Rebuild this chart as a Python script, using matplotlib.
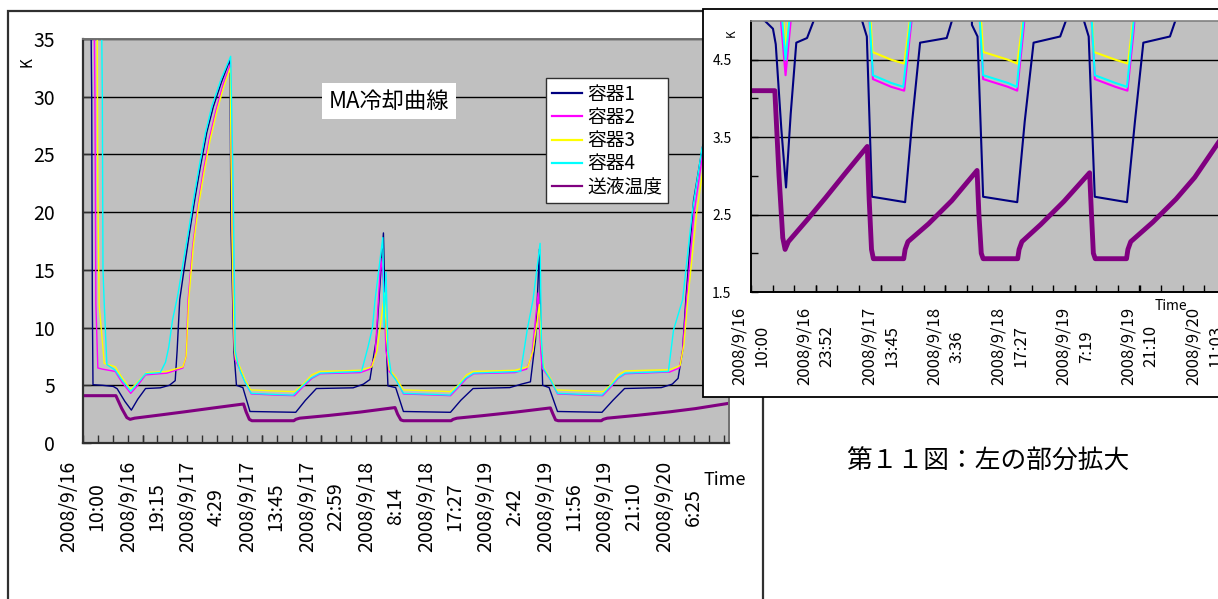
import numpy as np
import matplotlib
matplotlib.use('Agg')
import matplotlib.pyplot as plt
from matplotlib.patches import Rectangle
from matplotlib.ticker import FixedLocator
from datetime import datetime

plt.rcParams['font.family'] = ['Noto Sans CJK JP', 'DejaVu Sans']

# ---------------- data (hours after 2008/9/16 10:00, temperature K) ----------------
START = '2008/9/16 10:00'
T_END = 100.2

main_tick_labels = ['2008/9/16 10:00', '2008/9/16 19:15', '2008/9/17 4:29', '2008/9/17 13:45',
                    '2008/9/17 22:59', '2008/9/18 8:14', '2008/9/18 17:27', '2008/9/19 2:42',
                    '2008/9/19 11:56', '2008/9/19 21:10', '2008/9/20 6:25']
inset_tick_labels = ['2008/9/16 10:00', '2008/9/16 23:52', '2008/9/17 13:45', '2008/9/18 3:36',
                     '2008/9/18 17:27', '2008/9/19 7:19', '2008/9/19 21:10', '2008/9/20 11:03']

series_names = ['容器1', '容器2', '容器3', '容器4', '送液温度']
series_colors = ['#000080', '#FF00FF', '#FFFF00', '#00FFFF', '#800080']

t1 = [0, 1.25, 1.35, 1.45, 1.55, 3.0, 4.7, 5.3, 6.5, 7.5, 8.5, 9.7, 12.0, 13.4, 14.3, 14.6, 15.0,
      15.8, 16.6, 17.4, 18.2, 19.2, 20.2, 21.5, 22.8, 22.95, 23.4, 23.8, 24.8, 25.9, 29, 33.0,
      34.5, 36.2, 41.9, 43.5, 44.5, 45.5, 46.6, 46.9, 47.3, 48.5, 49.7, 57.0, 58.6, 60.5, 66.2,
      68.0, 69.4, 70.2, 70.8, 71.0, 71.3, 72.3, 73.6, 80.5, 82.2, 84.0, 89.7, 91.4, 92.3, 93.0,
      93.5, 94.7, 96.1, 98.0, 100.3]
k1 = [60, 36, 30, 12, 5.05, 5.0, 4.9, 4.7, 3.6, 2.85, 3.8, 4.72, 4.78, 5.0, 5.4, 8.0, 12.4,
      15.5, 18.5, 21.3, 23.9, 26.9, 29.1, 31.3, 33.2, 18.5, 8, 5.0, 4.8, 2.73, 2.7, 2.66,
      3.7, 4.72, 4.78, 5.1, 5.5, 9, 18.2, 10.5, 4.95, 4.8, 2.73, 2.66, 3.7, 4.72, 4.8,
      5.1, 5.3, 9, 16.8, 10, 5.0, 4.8, 2.73, 2.66, 3.7, 4.72, 4.8, 5.1, 5.6, 8,
      12.4, 21, 25.7, 28.5, 31]

t2 = [0, 1.75, 1.85, 2.0, 2.3, 3.0, 5.0, 6.0, 7.4, 8.5, 9.7, 13.0, 15.5, 16.0, 16.3, 17.0, 17.8,
      18.6, 19.6, 20.6, 21.8, 22.85, 22.95, 23.1, 23.4, 23.6, 24.4, 25.2, 26.1, 30, 32.8, 34.0,
      35.5, 36.8, 43, 44.5, 45.3, 46.2, 46.6, 47.0, 47.5, 48.5, 49.7, 55, 57.0, 58.2, 59.5,
      60.6, 67, 68.8, 69.6, 70.6, 70.9, 71.2, 72.5, 73.6, 78, 80.6, 81.8, 83.0, 84.1, 91,
      92.5, 93.0, 93.6, 94.8, 96.2, 100.3]
k2 = [60, 36, 30, 12, 6.5, 6.4, 6.2, 5.3, 4.3, 5.0, 5.9, 6.05, 6.5, 7.5, 12.4, 17, 20.5,
      23.4, 26.4, 28.8, 31.2, 32.8, 29, 20, 9, 7.2, 6.3, 5.2, 4.25, 4.15, 4.1, 4.8,
      5.6, 6.0, 6.1, 6.4, 7.5, 16, 14, 8, 6.2, 5.6, 4.25, 4.15, 4.1, 4.8, 5.6,
      6.0, 6.1, 6.4, 7.5, 13, 9, 6.5, 5.5, 4.25, 4.15, 4.1, 4.8, 5.6, 6.0, 6.15,
      6.5, 8, 12.4, 20, 25.3, 31]

t3 = [0, 2.2, 2.3, 2.5, 3.3, 5.0, 6.0, 7.4, 8.5, 9.9, 13.0, 15.5, 16.0, 16.4, 17.1, 17.9, 18.7,
      19.7, 20.7, 21.8, 22.85, 22.95, 23.2, 23.5, 23.7, 24.4, 25.2, 26.0, 30, 32.8, 34.0, 35.5,
      36.7, 43, 44.8, 45.6, 46.8, 47.1, 47.5, 48.5, 49.7, 55, 57.0, 58.2, 59.5, 60.5, 67,
      69.0, 69.8, 70.8, 71.1, 71.5, 72.5, 73.4, 78, 80.7, 81.8, 83.0, 84.1, 91, 92.6, 93.2,
      93.8, 95.2, 96.5, 100.3]
k3 = [60, 36, 22, 12, 6.9, 6.6, 5.7, 4.65, 5.3, 6.1, 6.2, 6.6, 7.5, 12.4, 17, 20.5, 23.2,
      26.2, 28.6, 30.8, 32.5, 25, 15, 8, 7.3, 6.5, 5.4, 4.6, 4.5, 4.45, 5.0, 5.9,
      6.2, 6.3, 6.6, 8, 13, 9, 6.4, 5.7, 4.6, 4.5, 4.45, 5.0, 5.9, 6.2, 6.3,
      6.6, 8, 12, 8.5, 6.5, 5.6, 4.6, 4.5, 4.45, 5.0, 5.9, 6.25, 6.35, 6.7, 8.5,
      12.4, 20, 25, 30]

t4 = [0, 2.9, 3.0, 3.1, 3.3, 3.7, 5.0, 6.0, 7.4, 8.5, 9.7, 12.0, 12.8, 13.3, 13.9, 14.7, 15.5,
      16.4, 17.2, 18.0, 19.0, 20.0, 21.4, 22.9, 23.1, 23.3, 23.6, 24.0, 24.4, 25.1, 26.1, 30,
      32.6, 33.8, 35.3, 36.8, 43.2, 44.2, 44.9, 45.3, 46.5, 46.7, 47.0, 47.3, 47.8, 48.6, 49.7,
      55, 56.9, 58.0, 59.3, 60.6, 67.9, 68.9, 69.8, 70.9, 71.1, 71.4, 72.6, 73.6, 78, 80.5,
      81.6, 82.9, 84.1, 90.8, 91.6, 93.0, 94.5, 96.0, 100.3]
k4 = [60, 36, 30, 15, 12, 6.8, 6.3, 5.5, 4.5, 5.2, 6.0, 6.1, 7.0, 8.3, 10.7, 12.8, 15.5,
      18.5, 21.3, 23.9, 26.9, 29.2, 31.5, 33.5, 28, 22, 8, 6.9, 6.2, 5.3, 4.3, 4.2,
      4.15, 4.8, 5.6, 6.05, 6.2, 8.3, 10, 12.4, 17.8, 10, 14.8, 8, 6.0, 5.4, 4.3,
      4.2, 4.15, 4.8, 5.6, 6.05, 6.2, 9.8, 12.4, 17.3, 9, 6.5, 5.4, 4.3, 4.2, 4.15,
      4.8, 5.6, 6.05, 6.2, 9.8, 12.4, 20, 25.5, 31]

t5 = [0, 5.1, 6.0, 6.8, 7.3, 8.0, 12, 16, 20, 24.9, 25.3, 25.8, 26.2, 32.7, 33.0, 33.6, 38, 43,
      48.4, 48.8, 49.3, 49.7, 57.1, 57.4, 58.0, 62, 67, 72.5, 72.9, 73.3, 73.7, 80.4, 80.7,
      81.3, 86, 91, 95, 100.3]
k5 = [4.1, 4.1, 3.0, 2.2, 2.05, 2.15, 2.43, 2.72, 3.02, 3.38, 2.7, 2.05, 1.93, 1.93, 2.05, 2.15, 2.38, 2.68,
      3.07, 2.5, 2.0, 1.93, 1.93, 2.05, 2.15, 2.37, 2.67, 3.04, 2.5, 2.0, 1.93, 1.93, 2.05,
      2.15, 2.4, 2.7, 2.98, 3.45]

series_t = [t1, t2, t3, t4, t5]
series_k = [k1, k2, k3, k4, k5]

# ---------------- helpers ----------------
t0 = datetime.strptime(START, '%Y/%m/%d %H:%M')


def hours(lbl):
    return (datetime.strptime(lbl, '%Y/%m/%d %H:%M') - t0).total_seconds() / 3600.0


def two_line(lbl):
    d, t = lbl.split(' ')
    return d + '\n' + t


W, H = 1218, 599
fig = plt.figure(figsize=(W / 100, H / 100), dpi=100)
fig.patch.set_facecolor('white')


def fx(px):
    return px / W


def fy(py):
    return (H - py) / H


# outer frame of main chart
fig.patches.append(Rectangle((fx(8), -0.05), fx(763) - fx(8), fy(11) + 0.05,
                             transform=fig.transFigure, fill=False,
                             edgecolor='#303030', lw=1.6, zorder=0))

# ---------------- main chart ----------------
ax = fig.add_axes([fx(83), fy(443), fx(729) - fx(83), fy(39) - fy(443)])
ax.set_zorder(1)
ax.set_facecolor('#C0C0C0')
main_lw = [1.0, 1.0, 1.0, 1.0, 2.2]
for t, k, c, n, lw in zip(series_t, series_k, series_colors, series_names, main_lw):
    ax.plot(t, k, color=c, lw=lw, label=n)
ax.set_xlim(0, T_END)
ax.set_ylim(0, 35)
ax.set_yticks(np.arange(0, 36, 5))
ax.yaxis.grid(True, color='black', lw=1.0)
ax.set_axisbelow(True)
main_pos = [hours(l) for l in main_tick_labels]
ax.set_xticks(main_pos)
ax.set_xticklabels([two_line(l) for l in main_tick_labels], rotation=90,
                   fontsize=14, linespacing=1.45, multialignment='center')
step = (main_pos[-1] - main_pos[0]) / (len(main_pos) - 1) / 4
ax.xaxis.set_minor_locator(FixedLocator(np.arange(0, T_END, step)))
ax.tick_params(axis='x', which='both', direction='in', length=6, width=1, color='#303030', pad=13)
ax.tick_params(axis='y', which='both', direction='in', length=6, width=1, color='#303030',
               pad=20, labelsize=14)
for s in ['left', 'bottom']:
    ax.spines[s].set_color('#303030')
    ax.spines[s].set_linewidth(1.6)
for s in ['top', 'right']:
    ax.spines[s].set_color('#707070')
    ax.spines[s].set_linewidth(1.4)

ax.text((389 - 83) / 646, (443 - 101) / 404, 'MA冷却曲線', transform=ax.transAxes,
        fontsize=16, ha='center', va='center',
        bbox=dict(facecolor='white', edgecolor='none', pad=5))
leg = ax.legend(loc='upper left', bbox_to_anchor=((546 - 83) / 646, (443 - 78) / 404),
                borderaxespad=0, fontsize=13.5, frameon=True, fancybox=False,
                edgecolor='#303030', framealpha=1, handlelength=1.6, handletextpad=0.3,
                labelspacing=0.12, borderpad=0.3)
leg.get_frame().set_linewidth(1.0)
for h in leg.get_lines():
    h.set_linewidth(1.6)

fig.text(fx(704), fy(480), 'Time', fontsize=13, ha='left', va='center')
fig.text(fx(27), fy(62), 'K', fontsize=11, ha='center', va='center', rotation=90)

# ---------------- inset (partial enlargement) ----------------
fig.patches.append(Rectangle((fx(703), fy(397)), fx(1240) - fx(703), fy(9) - fy(397),
                             transform=fig.transFigure, facecolor='white',
                             edgecolor='black', lw=1.3, zorder=1.5))

ax2 = fig.add_axes([fx(751), fy(292), fx(1219) - fx(751), fy(21) - fy(292)])
ax2.set_zorder(2)
ax2.set_facecolor('#C0C0C0')
inset_lw = [1.5, 1.5, 1.5, 1.5, 3.5]
for t, k, c, lw in zip(series_t, series_k, series_colors, inset_lw):
    ax2.plot(t, k, color=c, lw=lw)
ax2.set_xlim(0, T_END)
ax2.set_ylim(1.5, 5.0)
ax2.set_yticks([1.5, 2.5, 3.5, 4.5])
ax2.yaxis.set_minor_locator(FixedLocator([2.0, 3.0, 4.0]))
ax2.yaxis.grid(True, which='major', color='black', lw=1.0)
ax2.set_axisbelow(True)
inset_pos = [hours(l) for l in inset_tick_labels]
ax2.set_xticks(inset_pos)
ax2.set_xticklabels([two_line(l) for l in inset_tick_labels], rotation=90,
                    fontsize=12, linespacing=1.45, multialignment='center')
step2 = (inset_pos[-1] - inset_pos[0]) / (len(inset_pos) - 1) / 3
ax2.xaxis.set_minor_locator(FixedLocator(np.arange(0, T_END, step2)))
ax2.tick_params(axis='x', which='both', direction='in', length=5, width=1, color='black', pad=11)
ax2.tick_params(axis='y', which='both', direction='in', length=5, width=1, color='black',
                pad=14, labelsize=10)
for s in ['left', 'bottom']:
    ax2.spines[s].set_color('black')
    ax2.spines[s].set_linewidth(1.4)
for s in ['top', 'right']:
    ax2.spines[s].set_color('#808080')
    ax2.spines[s].set_linewidth(1.2)

t_k = fig.text(fx(731), fy(33), 'K', fontsize=8.5, ha='center', va='center', rotation=90)
t_k.set_zorder(3)
t_time = fig.text(fx(1155), fy(306), 'Time', fontsize=10, ha='left', va='center')
t_time.set_zorder(3)

cap = fig.text(fx(988), fy(462), '第１１図：左の部分拡大', fontsize=18.5, ha='center', va='center')
cap.set_zorder(3)

fig.savefig('out.png', dpi=100)
